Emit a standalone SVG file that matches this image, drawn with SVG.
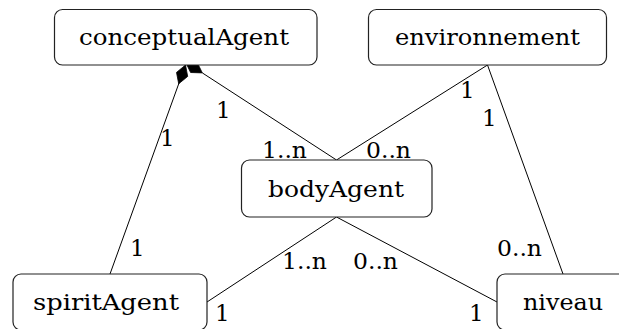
<svg xmlns="http://www.w3.org/2000/svg" width="619" height="329" viewBox="0 0 619 329">
<style>
.box{fill:#fff;stroke:#222;stroke-width:1.2}
.edge{stroke:#000;stroke-width:1;fill:none}
.dia{fill:#000;stroke:#000;stroke-width:0.8}
text{font-family:'DejaVu Serif','Liberation Serif',serif;font-size:23px;fill:#000}
</style>
<g id="connectors">
<line class="edge" x1="185.5" y1="65" x2="110" y2="274"/>
<polygon class="dia" points="185.5,65 187.7,76.4 178.7,83.8 176.5,72.4"/>
<line class="edge" x1="336.5" y1="160" x2="202.3" y2="72.9"/>
<polygon class="dia" points="185.5,62 197.2,62.4 202.3,72.9 190.6,72.5"/>
<line class="edge" x1="487.5" y1="65" x2="336.5" y2="160"/>
<line class="edge" x1="487.5" y1="65" x2="563" y2="274"/>
<line class="edge" x1="336.5" y1="217" x2="207" y2="302"/>
<line class="edge" x1="336.5" y1="217" x2="497" y2="302"/>
<text x="160" y="146">1</text>
<text x="130" y="256">1</text>
<text x="216" y="118">1</text>
<text x="262" y="158" textLength="45" lengthAdjust="spacingAndGlyphs">1..n</text>
<text x="366" y="158" textLength="45" lengthAdjust="spacingAndGlyphs">0..n</text>
<text x="460" y="98">1</text>
<text x="482" y="126">1</text>
<text x="497" y="256" textLength="45" lengthAdjust="spacingAndGlyphs">0..n</text>
<text x="282" y="269" textLength="45" lengthAdjust="spacingAndGlyphs">1..n</text>
<text x="353" y="269" textLength="45" lengthAdjust="spacingAndGlyphs">0..n</text>
<text x="215" y="321">1</text>
<text x="469" y="321">1</text>
</g>
<g id="conceptualAgent">
<rect class="box" x="54.5" y="9.5" width="262.5" height="55.5" rx="8"/>
<text x="79" y="45" textLength="210" lengthAdjust="spacingAndGlyphs">conceptualAgent</text>
</g>
<g id="environnement">
<rect class="box" x="368.5" y="9.5" width="238" height="55.5" rx="8"/>
<text x="395" y="45" textLength="185" lengthAdjust="spacingAndGlyphs">environnement</text>
</g>
<g id="bodyAgent">
<rect class="box" x="241.5" y="160" width="190.5" height="57" rx="8"/>
<text x="268" y="197" textLength="136" lengthAdjust="spacingAndGlyphs">bodyAgent</text>
</g>
<g id="spiritAgent">
<rect class="box" x="13" y="274" width="194" height="56" rx="8"/>
<text x="33" y="310" textLength="146" lengthAdjust="spacingAndGlyphs">spiritAgent</text>
</g>
<g id="niveau">
<rect class="box" x="497" y="274" width="132" height="56" rx="8"/>
<text x="523" y="310" textLength="80" lengthAdjust="spacingAndGlyphs">niveau</text>
</g>
</svg>
